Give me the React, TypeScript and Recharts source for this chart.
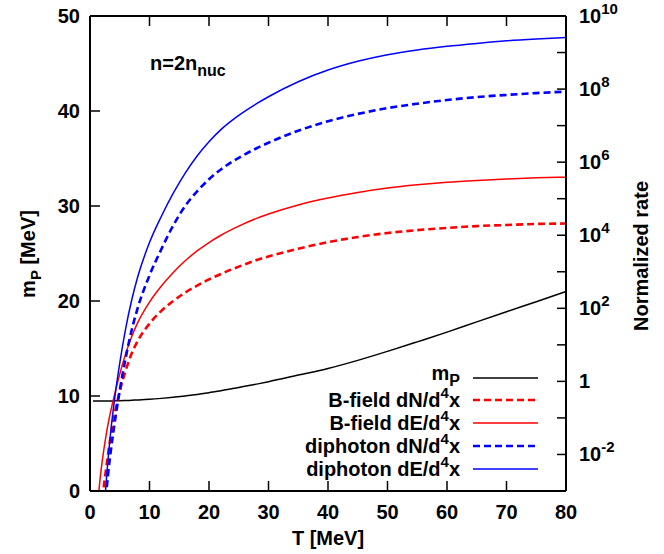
import React from 'react';
import { LineChart, Line, XAxis, YAxis, ReferenceLine } from 'recharts';

// temperature grid [MeV]
const T = [0.5, 1, 1.5, 2, 2.5, 3, 3.5, 4, 5, 6, 7, 8, 10, 12, 14, 16, 18, 20, 22, 25, 28, 30, 35, 40, 45, 50, 55, 60, 65, 70, 75, 80];

// m_P [MeV], left axis
const mP = [9.47, 9.47, 9.47, 9.47, 9.47, 9.48, 9.48, 9.49, 9.5, 9.52, 9.55, 9.58, 9.65, 9.75, 9.87, 10.0, 10.15, 10.35, 10.55, 10.9, 11.25, 11.5, 12.2, 12.9, 13.75, 14.7, 15.7, 16.72, 17.8, 18.87, 19.92, 21.0];

// normalized rates, stored as log10 (right axis)
const bFieldDN = [null, null, -4.1, -3.3, -2.65, -2.03, -1.47, -1.0, -0.27, 0.3, 0.76, 1.1, 1.58, 1.93, 2.2, 2.43, 2.62, 2.79, 2.94, 3.14, 3.32, 3.42, 3.63, 3.81, 3.95, 4.06, 4.14, 4.2, 4.25, 4.28, 4.31, 4.32];
const bFieldDE = [null, -4.3, -3.0, -2.25, -1.68, -1.2, -0.8, -0.45, 0.2, 0.76, 1.22, 1.6, 2.17, 2.61, 2.98, 3.3, 3.57, 3.8, 4.0, 4.25, 4.46, 4.58, 4.83, 5.02, 5.17, 5.29, 5.38, 5.45, 5.5, 5.54, 5.57, 5.59];
const diphotonDN = [null, null, null, -5.0, -3.55, -2.6, -1.9, -1.3, -0.25, 0.65, 1.4, 2.0, 2.9, 3.62, 4.27, 4.8, 5.2, 5.53, 5.8, 6.12, 6.38, 6.53, 6.86, 7.12, 7.32, 7.48, 7.6, 7.7, 7.78, 7.84, 7.89, 7.93];
const diphotonDE = [null, null, null, -4.6, -3.25, -2.2, -1.35, -0.65, 0.5, 1.45, 2.22, 2.85, 3.8, 4.52, 5.15, 5.7, 6.17, 6.56, 6.89, 7.28, 7.6, 7.79, 8.2, 8.52, 8.76, 8.94, 9.07, 9.17, 9.25, 9.32, 9.37, 9.41];

const xTicks = [0, 10, 20, 30, 40, 50, 60, 70, 80];
const leftTicks = [0, 10, 20, 30, 40, 50];
const rightExps = [-3, -2, -1, 0, 1, 2, 3, 4, 5, 6, 7, 8, 9, 10];

const W = 664;
const H = 554;
const PLOT_TOP = 16;
const PLOT_H = 475;
const FONT = '"Liberation Sans", Arial, Helvetica, sans-serif';
const RED = '#ff0000';
const BLUE = '#0000ff';

const pow = (v: number | null) => (v == null ? null : Math.pow(10, v));

const data = T.map((t, i) => ({
  T: t,
  mP: mP[i],
  bDN: pow(bFieldDN[i]),
  bDE: pow(bFieldDE[i]),
  gDN: pow(diphotonDN[i]),
  gDE: pow(diphotonDE[i]),
}));

const series = [
  { key: 'mP', axis: 'left', color: '#000000', dash: undefined, width: 1.5, label: 'm', sub: 'P' },
  { key: 'bDN', axis: 'right', color: RED, dash: '7 4', width: 2.6, label: 'B-field dN/d', sup: '4' },
  { key: 'bDE', axis: 'right', color: RED, dash: undefined, width: 1.5, label: 'B-field dE/d', sup: '4' },
  { key: 'gDN', axis: 'right', color: BLUE, dash: '7 4', width: 2.6, label: 'diphoton dN/d', sup: '4' },
  { key: 'gDE', axis: 'right', color: BLUE, dash: undefined, width: 1.5, label: 'diphoton dE/d', sup: '4' },
];

const textStyle = { fontFamily: FONT, fontWeight: 'bold' as const, fill: '#000' };

function XTick(props: any) {
  const { x, y, payload } = props;
  return (
    <g>
      <line x1={x} x2={x} y1={y} y2={y - 10} stroke="#000" strokeWidth={1.5} />
      <line x1={x} x2={x} y1={y - PLOT_H} y2={y - PLOT_H + 10} stroke="#000" strokeWidth={1.5} />
      <text x={x} y={y + 28} textAnchor="middle" fontSize={20} {...textStyle}>
        {payload.value}
      </text>
    </g>
  );
}

function LeftTick(props: any) {
  const { x, y, payload } = props;
  return (
    <g>
      <line x1={x} x2={x + 10} y1={y} y2={y} stroke="#000" strokeWidth={1.5} />
      <text x={x - 10} y={y + 7} textAnchor="end" fontSize={20} {...textStyle}>
        {payload.value}
      </text>
    </g>
  );
}

function RightTick(props: any) {
  const { x, y, payload } = props;
  const e = Math.round(Math.log10(payload.value));
  let label = null;
  if (e % 2 === 0) {
    label =
      e === 0 ? (
        <text x={x + 13} y={y + 7} fontSize={20} {...textStyle}>1</text>
      ) : (
        <text x={x + 13} y={y + 7} fontSize={20} {...textStyle}>
          10
          <tspan dy={-9} fontSize={15}>{e}</tspan>
        </text>
      );
  }
  return (
    <g>
      <line x1={x} x2={x - 9} y1={y} y2={y} stroke="#000" strokeWidth={1.5} />
      {label}
    </g>
  );
}

function Titles() {
  return (
    <g>
      <text x={328} y={545} textAnchor="middle" fontSize={20} {...textStyle}>T [MeV]</text>
      <text x={35} y={254} textAnchor="middle" fontSize={20} transform="rotate(-90 35 254)" {...textStyle}>
        m<tspan dy={6} fontSize={15}>P</tspan>
        <tspan dy={-6}> [MeV]</tspan>
      </text>
      <text x={648} y={256} textAnchor="middle" fontSize={20} transform="rotate(-90 648 256)" {...textStyle}>
        Normalized rate
      </text>
      <text x={150} y={70} fontSize={20} {...textStyle}>
        n=2n<tspan dy={6} fontSize={16}>nuc</tspan>
      </text>
    </g>
  );
}

function LegendBox() {
  const rowY = [378, 400, 423, 446, 469];
  return (
    <g>
      {series.map((s, i) => (
        <g key={s.key}>
          {s.sub ? (
            <text x={460} y={rowY[i] + 2} textAnchor="end" fontSize={20} {...textStyle}>
              {s.label}
              <tspan dy={6} fontSize={16}>{s.sub}</tspan>
            </text>
          ) : (
            <text x={460} y={rowY[i] + 7} textAnchor="end" fontSize={20} {...textStyle}>
              {s.label}
              <tspan dy={-9} fontSize={15}>{s.sup}</tspan>
              <tspan dy={9}>x</tspan>
            </text>
          )}
          <line
            x1={473}
            x2={538}
            y1={rowY[i]}
            y2={rowY[i]}
            stroke={s.color}
            strokeWidth={s.width}
            strokeDasharray={s.dash}
          />
        </g>
      ))}
    </g>
  );
}

export default function App() {
  return (
    <div style={{ position: 'absolute', left: 0, top: 0, width: W, height: H, background: '#fff' }}>
      <LineChart width={W} height={H} data={data} margin={{ top: PLOT_TOP, right: 0, bottom: 0, left: 0 }}>
        <XAxis
          dataKey="T"
          type="number"
          domain={[0, 80]}
          ticks={xTicks}
          interval={0}
          height={63}
          tickSize={0}
          tickMargin={0}
          tickLine={false}
          tick={<XTick />}
          axisLine={{ stroke: '#000', strokeWidth: 2 }}
        />
        <YAxis
          yAxisId="left"
          type="number"
          domain={[0, 50]}
          ticks={leftTicks}
          interval={0}
          width={90}
          tickSize={0}
          tickMargin={0}
          tickLine={false}
          tick={<LeftTick />}
          axisLine={{ stroke: '#000', strokeWidth: 2 }}
        />
        <YAxis
          yAxisId="right"
          orientation="right"
          type="number"
          scale="log"
          domain={[1e-3, 1e10]}
          allowDataOverflow
          ticks={rightExps.map((e) => Math.pow(10, e))}
          interval={0}
          width={98}
          tickSize={0}
          tickMargin={0}
          tickLine={false}
          tick={<RightTick />}
          axisLine={{ stroke: '#000', strokeWidth: 2 }}
        />
        <ReferenceLine yAxisId="left" y={50} stroke="#000" strokeWidth={2} />
        {series.map((s) => (
          <Line
            key={s.key}
            yAxisId={s.axis}
            dataKey={s.key}
            type="monotone"
            stroke={s.color}
            strokeWidth={s.width}
            strokeDasharray={s.dash}
            dot={false}
            activeDot={false}
            isAnimationActive={false}
          />
        ))}
        <Titles />
        <LegendBox />
      </LineChart>
    </div>
  );
}
